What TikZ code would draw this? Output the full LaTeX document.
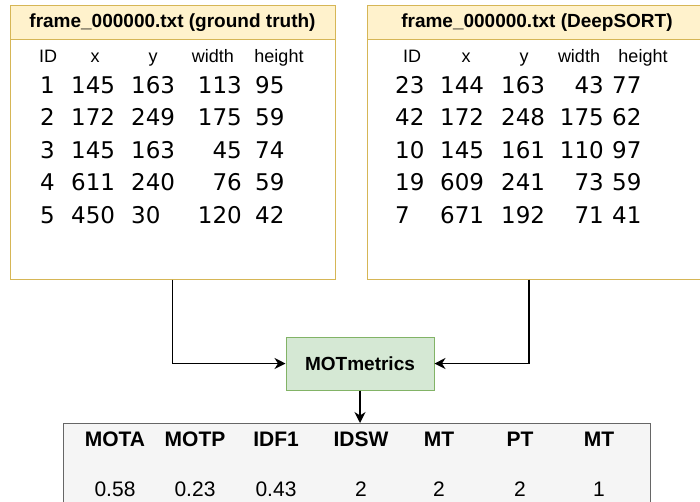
\documentclass[tikz,border=0pt]{standalone}
\usepackage{fontspec}
\setmainfont{Liberation Sans}
\newfontfamily\datafont{DejaVu Sans}
\usetikzlibrary{arrows.meta,calc}
\definecolor{noteFill}{HTML}{FFF2CC}
\definecolor{noteLine}{HTML}{D6B656}
\definecolor{procFill}{HTML}{D5E8D4}
\definecolor{procLine}{HTML}{82B366}
\definecolor{resFill}{HTML}{F5F5F5}
\definecolor{resLine}{HTML}{666666}

\begin{document}
\begin{tikzpicture}[x=1pt,y=-1pt,
  filebox/.style={draw=noteLine, fill=white, line width=1pt, rectangle, inner sep=0pt},
  headband/.style={draw=noteLine, fill=noteFill, line width=1pt, rectangle, inner sep=0pt},
  titletext/.style={anchor=base, inner sep=0pt, font=\fontsize{19}{22}\selectfont\bfseries},
  coltext/.style={anchor=base, inner sep=0pt, font=\fontsize{18}{21}\selectfont},
  cellL/.style={anchor=base west, inner sep=0pt, font=\datafont\fontsize{23}{27}\selectfont},
  cellR/.style={anchor=base east, inner sep=0pt, font=\datafont\fontsize{23}{27}\selectfont},
  procbox/.style={draw=procLine, fill=procFill, line width=1pt, rectangle, inner sep=0pt,
    minimum width=148pt, minimum height=53pt, font=\fontsize{19}{22}\selectfont\bfseries},
  resbox/.style={draw=resLine, fill=resFill, line width=1pt, rectangle, inner sep=0pt},
  reshead/.style={anchor=base, inner sep=0pt, font=\fontsize{21}{24}\selectfont\bfseries},
  resval/.style={anchor=base, inner sep=0pt, font=\fontsize{21}{24}\selectfont},
  conn/.style={draw=black, line width=1.2pt, -{Stealth[length=11pt,width=11pt,inset=3.5pt]}}
]
\useasboundingbox (0,0) rectangle (700,501);
\clip (0,0) rectangle (700,501);

% ground-truth file
\node[filebox, minimum width=325pt, minimum height=274pt] (gt) at (172.5,142) {};
\node[headband, minimum width=325pt, minimum height=34pt, anchor=north] (gthead) at (gt.north) {};
\node[titletext] (gttitle) at (gt.north |- 0,27) {frame\_000000.txt (ground truth)};

% tracker output file
\node[filebox, minimum width=340pt, minimum height=274pt] (ds) at (537,142) {};
\node[headband, minimum width=340pt, minimum height=34pt, anchor=north] (dshead) at (ds.north) {};
\node[titletext] (dstitle) at (ds.north |- 0,27) {frame\_000000.txt (DeepSORT)};

% column headers
\foreach \lbl/\gx/\dx [count=\k] in {ID/48/412, x/95/466, y/153/524, width/213/579, height/279/643} {
  \node[coltext] (gt-h\k) at (\gx,62) {\lbl};
  \node[coltext] (ds-h\k) at (\dx,62) {\lbl};
}

% ground-truth rows
\foreach \a/\b/\c/\d/\e [count=\r] in
  {1/145/163/113/95, 2/172/249/175/59, 3/145/163/45/74, 4/611/240/76/59, 5/450/30/120/42} {
  \node[cellL] (gt-\r-id) at (40,{93+32.5*(\r-1)}) {\a};
  \node[cellL] (gt-\r-x)  at (71,{93+32.5*(\r-1)}) {\b};
  \node[cellL] (gt-\r-y)  at (131,{93+32.5*(\r-1)}) {\c};
  \node[cellR] (gt-\r-w)  at (242,{93+32.5*(\r-1)}) {\d};
  \node[cellL] (gt-\r-h)  at (255,{93+32.5*(\r-1)}) {\e};
}

% tracker rows
\foreach \a/\b/\c/\d/\e [count=\r] in
  {23/144/163/43/77, 42/172/248/175/62, 10/145/161/110/97, 19/609/241/73/59, 7/671/192/71/41} {
  \node[cellL] (ds-\r-id) at (395,{93+32.5*(\r-1)}) {\a};
  \node[cellL] (ds-\r-x)  at (440,{93+32.5*(\r-1)}) {\b};
  \node[cellL] (ds-\r-y)  at (501,{93+32.5*(\r-1)}) {\c};
  \node[cellR] (ds-\r-w)  at (604,{93+32.5*(\r-1)}) {\d};
  \node[cellL] (ds-\r-h)  at (612,{93+32.5*(\r-1)}) {\e};
}

% evaluation step
\node[procbox] (mot) at (360,363.5) {MOTmetrics};

% results table
\node[resbox, minimum width=587pt, minimum height=110pt, anchor=north west] (res) at (63,423) {};
\foreach \hd/\val/\cx [count=\k] in
  {MOTA/0.58/115, MOTP/0.23/195, IDF1/0.43/276, IDSW/2/361, MT/2/439, PT/2/520, MT/1/599} {
  \node[reshead] (res-h\k) at (\cx,446) {\hd};
  \node[resval]  (res-v\k) at (\cx,496) {\val};
}

% connectors
\coordinate (dsout) at ($(ds.south)+(-8,0)$);
\draw[conn] (gt.south) |- (mot.west);
\draw[conn] (dsout) |- (mot.east);
\draw[conn] (mot.south) -- (mot.south |- res.north);
\end{tikzpicture}
\end{document}
